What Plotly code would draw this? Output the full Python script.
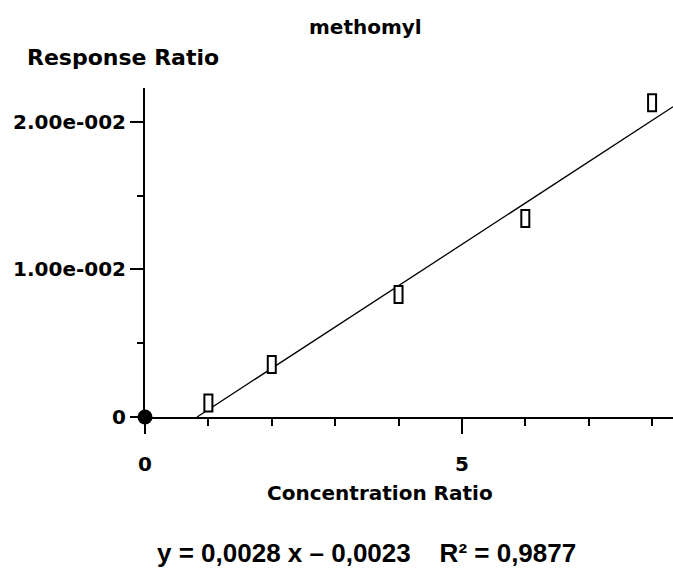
import plotly.graph_objects as go

# ---- data ----
conc_ratio = [1, 2, 4, 6, 8]
resp_ratio = [0.00095, 0.00356, 0.0083, 0.01346, 0.0213]
origin_x = [0]
origin_y = [0]
slope = 0.0028
intercept = -0.0023
r_squared = 0.9877
x_range = [0, 8.33]
y_range = [0, 0.0223]
x_tickvals = [0, 5]
x_ticktext = ["0", "5"]
y_tickvals = [0, 0.01, 0.02]
y_ticktext = ["0", "1.00e-002", "2.00e-002"]
title_text = "methomyl"
x_title = "Concentration Ratio"
y_title = "Response Ratio"

line_x = [-intercept / slope, x_range[1]]
line_y = [slope * v + intercept for v in line_x]

PIX = "DejaVu Sans"
ARIAL = "Liberation Sans"
NB = "\u00a0"

fig = go.Figure()
fig.add_trace(go.Scatter(x=line_x, y=line_y, mode="lines",
                         line=dict(color="black", width=1.3), hoverinfo="skip",
                         showlegend=False))
fig.add_trace(go.Scatter(x=conc_ratio, y=resp_ratio, mode="markers",
                         marker=dict(size=1, color="rgba(0,0,0,0)"),
                         showlegend=False))
fig.add_trace(go.Scatter(x=origin_x, y=origin_y, mode="markers",
                         marker=dict(size=15, color="black", symbol="circle"),
                         cliponaxis=False, showlegend=False))

shapes = []
for cx, cy in zip(conc_ratio, resp_ratio):
    shapes.append(dict(type="rect", xref="x", yref="y",
                       xsizemode="pixel", ysizemode="pixel",
                       xanchor=cx, yanchor=cy,
                       x0=-4, x1=4, y0=-8.5, y1=8.5,
                       line=dict(color="black", width=2),
                       fillcolor="white", layer="above"))

eq_text = ("y = " + f"{slope:.4f}".replace(".", ",") + " x \u2013 "
           + f"{-intercept:.4f}".replace(".", ",")
           + NB * 4 + "R\u00b2 = "
           + f"{r_squared:.4f}".replace(".", ","))

fig.update_layout(
    width=673, height=571,
    margin=dict(l=145, r=0, t=88, b=154),
    paper_bgcolor="white", plot_bgcolor="white",
    showlegend=False,
    shapes=shapes,
    xaxis=dict(range=x_range, showgrid=False, zeroline=False,
               showline=True, linecolor="black", linewidth=2,
               ticks="outside", ticklen=15, tickwidth=2, tickcolor="black",
               tickvals=x_tickvals, ticktext=x_ticktext,
               ticklabelstandoff=13,
               tickfont=dict(family=PIX, size=20, color="black", weight="bold"),
               minor=dict(dtick=1, tick0=0, ticks="outside", ticklen=7,
                          tickwidth=2, tickcolor="black")),
    yaxis=dict(range=y_range, showgrid=False, zeroline=False,
               showline=True, linecolor="black", linewidth=2,
               ticks="outside", ticklen=13, tickwidth=2, tickcolor="black",
               tickvals=y_tickvals, ticktext=y_ticktext,
               ticklabelstandoff=0,
               tickfont=dict(family=PIX, size=20, color="black", weight="bold"),
               minor=dict(dtick=0.005, tick0=0, ticks="outside", ticklen=6,
                          tickwidth=2, tickcolor="black")),
    annotations=[
        dict(text=title_text, xref="paper", yref="paper", x=(365 - 145) / 528,
             y=(417 - 27) / 329, showarrow=False, xanchor="center", yanchor="middle",
             font=dict(family=PIX, size=20, color="black", weight="bold")),
        dict(text=y_title, xref="paper", yref="paper", x=(123 - 145) / 528,
             y=(417 - 58) / 329, showarrow=False, xanchor="center", yanchor="middle",
             font=dict(family=PIX, size=22, color="black", weight="bold")),
        dict(text=x_title, xref="paper", yref="paper", x=(380 - 145) / 528,
             y=(417 - 493) / 329, showarrow=False, xanchor="center", yanchor="middle",
             font=dict(family=PIX, size=20, color="black", weight="bold")),
        dict(text=eq_text,
             xref="paper", yref="paper", x=(366 - 145) / 528,
             y=(417 - 553) / 329, showarrow=False, xanchor="center", yanchor="middle",
             font=dict(family=ARIAL, size=26, color="black", weight="bold")),
    ],
)

fig.write_html("out.html", config=dict(displayModeBar=False))
